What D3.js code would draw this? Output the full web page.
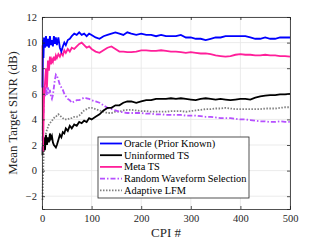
<!DOCTYPE html>
<html>
<head>
<meta charset="utf-8">
<script src="https://cdn.jsdelivr.net/npm/d3@7"></script>
<style>
  body { margin: 0; background: #fff; }
  svg text { font-family: "Liberation Serif", "DejaVu Serif", serif !important; }
</style>
</head>
<body>
<div id="chart"></div>
<script>
// CPI samples shared by every series
var cpi = [1,2,3,4,6,8,10,12,14,16,18,20,22,24,26,28,30,33,36,39,
    42,45,48,52,56,60,65,70,75,80,85,90,95,100,108,116,124,132,140,148,
    156,164,172,180,190,200,210,220,230,240,250,260,270,280,290,300,
    310,320,330,340,350,360,370,380,390,400,410,420,430,440,450,460,470,480,490,500];

var oracle = [6.5,10.2,8.8,10.4,9.6,10.5,9.7,10.3,9.6,10.5,9.8,10.2,9.7,10.5,9.9,10.4,9.8,10.4,9.6,9.3,
    9.7,10.0,9.8,10.2,10.3,10.5,10.7,10.6,10.8,10.6,10.7,10.5,10.7,10.6,10.4,10.3,10.5,10.6,10.7,10.8,
    10.7,10.6,10.8,10.7,10.6,10.7,10.6,10.6,10.5,10.6,10.5,10.5,10.5,10.6,10.4,10.4,
    10.3,10.3,10.2,10.3,10.4,10.4,10.5,10.5,10.5,10.5,10.5,10.4,10.3,10.3,10.4,10.3,10.3,10.4,10.4,10.4];

var uninformed = [1.2,2.4,1.5,2.6,1.6,2.8,2.0,2.6,2.2,2.9,2.5,2.7,2.2,2.0,1.9,1.8,2.0,2.4,2.8,2.6,
    3.0,2.9,3.3,3.1,3.5,3.3,3.6,3.5,3.8,3.7,3.9,3.8,4.1,4.0,4.2,4.4,4.7,4.9,4.9,5.1,
    5.1,5.3,5.4,5.4,5.3,5.4,5.5,5.5,5.6,5.6,5.6,5.65,5.6,5.65,5.6,5.55,
    5.5,5.6,5.65,5.6,5.55,5.6,5.55,5.5,5.55,5.6,5.6,5.55,5.7,5.8,5.85,5.9,5.9,5.95,5.95,6.0];

var metaTS = [9.8,1.5,3.5,5.5,6.8,8.0,6.5,8.6,7.8,8.9,8.3,8.7,8.5,8.9,8.6,9.0,8.8,9.1,8.9,9.2,
    9.0,9.4,9.2,9.5,9.3,9.6,9.5,9.7,9.9,10.0,9.8,9.6,9.7,9.5,9.3,9.2,9.4,9.6,9.7,9.5,
    9.3,9.3,9.25,9.25,9.3,9.4,9.4,9.35,9.35,9.4,9.35,9.3,9.3,9.25,9.2,9.25,
    9.2,9.15,9.15,9.1,9.0,8.95,8.9,8.95,9.05,9.1,9.05,9.05,9.0,9.0,9.05,9.0,9.0,8.95,8.95,8.9];

var randomWf = [1.5,5.5,4.5,6.6,5.8,6.6,5.9,6.5,6.0,6.3,5.8,5.6,5.9,6.5,7.1,7.5,7.4,7.1,6.7,6.5,
    6.3,6.0,5.8,5.6,5.5,5.3,5.4,5.5,5.5,5.6,5.7,5.65,5.6,5.5,5.4,5.3,5.1,4.9,4.8,4.7,
    4.6,4.55,4.5,4.5,4.5,4.5,4.45,4.45,4.4,4.4,4.35,4.35,4.35,4.35,4.3,4.3,
    4.3,4.25,4.2,4.2,4.15,4.1,4.1,4.1,4.05,4.0,4.0,3.95,3.9,3.85,3.85,3.8,3.8,3.85,3.8,3.8];

var adaptive = [-2.3,-0.5,0.8,1.6,2.4,2.9,3.2,3.4,3.6,3.7,3.8,3.9,4.0,4.1,4.2,4.2,4.3,4.4,4.3,4.2,
    4.1,4.0,4.0,4.0,4.1,4.1,4.2,4.2,4.3,4.5,4.7,4.8,4.9,4.9,4.8,4.7,4.6,4.5,4.5,4.6,
    4.6,4.7,4.75,4.75,4.7,4.65,4.65,4.6,4.6,4.6,4.6,4.65,4.65,4.65,4.6,4.65,
    4.7,4.75,4.8,4.8,4.85,4.85,4.9,4.85,4.8,4.8,4.8,4.8,4.8,4.8,4.85,4.85,4.85,4.9,4.95,4.95];

var seriesNames = ["Oracle (Prior Known)", "Uninformed TS", "Meta TS", "Random Waveform Selection", "Adaptive LFM"];
var xTicks = [0, 100, 200, 300, 400, 500];
var yTicks = [-2, 0, 2, 4, 6, 8, 10, 12];

var width = 321, height = 241;
var margin = {top: 17, right: 31, bottom: 32, left: 42};

var svg = d3.select("#chart").append("svg")
    .attr("width", width)
    .attr("height", height);

var x = d3.scaleLinear().domain([0, 500]).range([margin.left, width - margin.right]);
var y = d3.scaleLinear().domain([-3, 12]).range([height - margin.bottom, margin.top]);

/*****************  Grid **********************/
svg.append("g").selectAll("line").data(xTicks).enter().append("line")
    .attr("x1", function (d) { return x(d); })
    .attr("x2", function (d) { return x(d); })
    .attr("y1", y(-3)).attr("y2", y(12))
    .attr("stroke", "#e6e6e6").attr("stroke-width", 0.8);

svg.append("g").selectAll("line").data(yTicks).enter().append("line")
    .attr("y1", function (d) { return y(d); })
    .attr("y2", function (d) { return y(d); })
    .attr("x1", x(0)).attr("x2", x(500))
    .attr("stroke", "#e6e6e6").attr("stroke-width", 0.8);

/*****************  Lines **********************/
var styles = [
    {data: oracle, color: "#0000ff", dash: null, w: 1.8},
    {data: uninformed, color: "#000000", dash: null, w: 1.8},
    {data: metaTS, color: "#ff1f9a", dash: null, w: 1.8},
    {data: randomWf, color: "#b650ff", dash: "5,2,1.5,2", w: 1.8},
    {data: adaptive, color: "#808080", dash: "1.5,1.5", w: 1.8}
];

var line = d3.line()
    .x(function (d, i) { return x(cpi[i]); })
    .y(function (d) { return y(d); });

// draw order so that the lower curves sit under the others like the figure
[4, 3, 1, 2, 0].forEach(function (k) {
    var s = styles[k];
    svg.append("path")
        .datum(s.data)
        .attr("d", line)
        .attr("fill", "none")
        .attr("stroke", s.color)
        .attr("stroke-width", s.w)
        .attr("stroke-dasharray", s.dash);
});

/*****************  Axes **********************/
var xAxis = d3.axisBottom(x).tickValues(xTicks).tickSize(-3).tickPadding(6);
var yAxis = d3.axisLeft(y).tickValues(yTicks).tickSize(-3).tickPadding(5);

var gx = svg.append("g").attr("transform", "translate(0," + y(-3) + ")").call(xAxis);
var gy = svg.append("g").attr("transform", "translate(" + x(0) + ",0)").call(yAxis);
var gx2 = svg.append("g").attr("transform", "translate(0," + y(12) + ")")
    .call(d3.axisTop(x).tickValues(xTicks).tickSize(-3).tickFormat(""));
var gy2 = svg.append("g").attr("transform", "translate(" + x(500) + ",0)")
    .call(d3.axisRight(y).tickValues(yTicks).tickSize(-3).tickFormat(""));

[gx, gy, gx2, gy2].forEach(function (g) {
    g.selectAll("path").attr("stroke", "#262626").attr("stroke-width", 0.8);
    g.selectAll("line").attr("stroke", "#262626").attr("stroke-width", 0.8);
    g.selectAll("text")
        .attr("font-size", "10.5px")
        .attr("fill", "#262626");
});

svg.append("text")
    .attr("x", x(250)).attr("y", 237)
    .attr("text-anchor", "middle")
    .attr("font-size", "13px")
    .attr("fill", "#262626")
    .text("CPI #");

svg.append("text")
    .attr("transform", "translate(17," + y(4.5) + ") rotate(-90)")
    .attr("text-anchor", "middle")
    .attr("font-size", "12.8px")
    .attr("fill", "#262626")
    .text("Mean Target SINR (dB)");

/*****************  Legend **********************/
var legend = svg.append("g").attr("transform", "translate(98,137)");
legend.append("rect")
    .attr("width", 151).attr("height", 61)
    .attr("fill", "#fff")
    .attr("stroke", "#262626").attr("stroke-width", 0.8);

var items = legend.selectAll(".item").data(seriesNames).enter().append("g")
    .attr("transform", function (d, i) { return "translate(0," + (6.5 + i * 11.7) + ")"; });

items.append("line")
    .attr("x1", 2).attr("x2", 24)
    .attr("stroke", function (d, i) { return styles[i].color; })
    .attr("stroke-width", 1.8)
    .attr("stroke-dasharray", function (d, i) { return styles[i].dash; });

items.append("text")
    .attr("x", 26).attr("y", 3.4)
    .attr("font-size", "10.4px")
    .attr("fill", "#000")
    .text(function (d) { return d; });
</script>
</body>
</html>
